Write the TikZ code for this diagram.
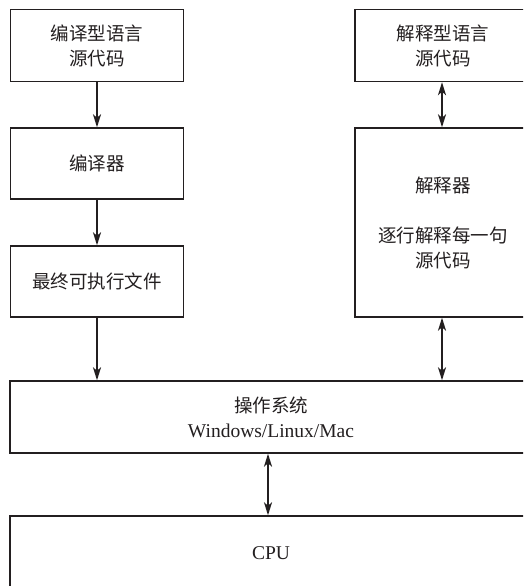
\documentclass[tikz,border=0pt]{standalone}
\usepackage{fontspec}
\setmainfont{Liberation Serif}
\newfontfamily\cjk{Noto Sans CJK SC}
\usetikzlibrary{arrows.meta}
\definecolor{ink}{HTML}{231F20}
\begin{document}
\begin{tikzpicture}[x=1pt,y=-1pt,
  box/.style={draw=ink, line width=1.4pt, inner sep=0pt, align=center, text=ink,
    font=\cjk\fontsize{18.5}{25}\selectfont},
  arr/.style={draw=ink, line width=1.7pt, -{Stealth[length=13pt,width=8pt,inset=3.5pt]}},
  darr/.style={draw=ink, line width=1.7pt, {Stealth[length=13pt,width=8pt,inset=3.5pt]}-{Stealth[length=13pt,width=8pt,inset=3.5pt]}}]
\useasboundingbox (0,0) rectangle (523,586);
\clip (0,0) rectangle (523,586);
\fill[white] (0,0) rectangle (523,586);
\node[box, minimum width=173pt, minimum height=72pt] (src1) at (97,45.5) {编译型语言\\源代码};
\node[box, minimum width=173pt, minimum height=71pt] (comp) at (97,163.5) {编译器};
\node[box, minimum width=173pt, minimum height=71pt] (exe) at (97,281.5) {最终可执行文件};
\node[box, minimum width=176pt, minimum height=72pt] (src2) at (443,45.5) {解释型语言\\源代码};
\node[box, minimum width=176pt, minimum height=189pt] (interp) at (443,222.5) {解释器\\ \\逐行解释每一句\\源代码};
\node[box, minimum width=522pt, minimum height=72pt] (os) at (271,417) {操作系统\\{\rmfamily\fontsize{19.5}{22}\selectfont Windows/Linux/Mac}};
\node[box, minimum width=522pt, minimum height=74pt, font=\rmfamily\fontsize{19.5}{22}\selectfont] (cpu) at (271,553) {CPU};
\draw[arr] (src1) -- (comp);
\draw[arr] (comp) -- (exe);
\draw[arr] (exe.south) -- (exe.south |- os.north);
\draw[darr] ([xshift=-1pt]src2.south) -- ([xshift=-1pt]interp.north);
\draw[darr] ([xshift=-1pt]interp.south) -- ([xshift=-1pt]interp.south |- os.north);
\draw[darr] ([xshift=-3pt]os.south) -- ([xshift=-3pt]cpu.north);
\end{tikzpicture}
\end{document}
